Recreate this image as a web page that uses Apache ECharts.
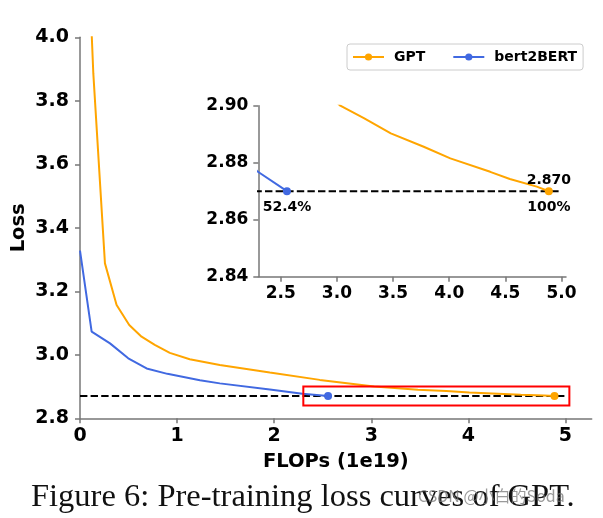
<!DOCTYPE html>
<html>
<head>
<meta charset="utf-8">
<script src="https://cdn.jsdelivr.net/npm/echarts@6/dist/echarts.min.js"></script>
<style>
html,body{margin:0;padding:0;background:#fff;}
#chart{width:603px;height:518px;}
</style>
</head>
<body>
<div id="chart"></div>
<script>
// ---- data ----
const gptX = [0.115, 0.137, 0.257, 0.377, 0.507, 0.634, 0.77, 0.925, 1.13, 1.44, 1.955, 2.47, 3.03, 3.24, 3.48, 3.773, 4.01, 4.365, 4.54, 4.78, 4.887];
const gptY = [4.05, 3.887, 3.288, 3.157, 3.094, 3.057, 3.031, 3.006, 2.986, 2.968, 2.944, 2.921, 2.900, 2.8956, 2.8903, 2.8856, 2.8815, 2.8768, 2.8743, 2.8716, 2.870];
const bertX = [0, 0.12, 0.309, 0.497, 0.686, 0.9, 1.235, 1.44, 1.955, 2.29, 2.555];
const bertY = [3.328, 3.073, 3.036, 2.989, 2.957, 2.940, 2.920, 2.910, 2.891, 2.877, 2.870];
const refLoss = 2.870;
const refX = [0, 5.0];
const zoomBoxX = [2.3, 5.04];
const zoomBoxY = [2.84, 2.90];
const mainXTicks = [0, 1, 2, 3, 4, 5];
const insetXTicks = [2.5, 3.0, 3.5, 4.0, 4.5, 5.0];
const seriesNames = ['GPT', 'bert2BERT'];
const bertLabel = '52.4%';
const gptLabelTop = '2.870';
const gptLabelBottom = '100%';
const xTitle = 'FLOPs (1e19)';
const yTitle = 'Loss';
const caption = 'Figure 6: Pre-training loss curves of GPT.';
const watermark = 'CSDN @小白的Soda';

const ORANGE = '#FFA500';
const BLUE = '#4169E1';
const AXIS = '#777777';
const FONT = 'DejaVu Sans';

const zip = (xs, ys) => xs.map((x, i) => [x, ys[i]]);
const gptData = zip(gptX, gptY);
const bertData = zip(bertX, bertY);
const refData = refX.map(x => [x, refLoss]);

function lastDot(n) {
  return function (v, p) { return p.dataIndex === n - 1 ? 8 : 0; };
}

function axisCommon(fontSize, margin) {
  return {
    axisLine: { show: true, lineStyle: { color: AXIS, width: 1.5 } },
    axisTick: { show: true, length: 5, lineStyle: { color: AXIS, width: 1.5 } },
    splitLine: { show: false },
    axisLabel: { color: '#000', fontFamily: FONT, fontWeight: 'bold', fontSize: fontSize, margin: margin }
  };
}

function lineSeries(name, data, color, xi, yi, extra) {
  return Object.assign({
    name: name, type: 'line', data: data, xAxisIndex: xi, yAxisIndex: yi,
    symbol: 'circle', symbolSize: lastDot(data.length), showSymbol: true,
    lineStyle: { color: color, width: 2 }, itemStyle: { color: color },
    clip: true, z: 3, silent: true
  }, extra || {});
}

function refSeries(xi, yi, extra) {
  return Object.assign({
    name: 'ref', type: 'line', data: refData, xAxisIndex: xi, yAxisIndex: yi,
    symbol: 'none', lineStyle: { color: '#000', width: 2, type: [7.4, 3.2] },
    clip: true, z: 2, silent: true
  }, extra || {});
}

const mainX = Object.assign(axisCommon(19, 8), {
  type: 'value', gridIndex: 0, min: 0, max: 5.27,
  name: xTitle, nameLocation: 'middle', nameGap: 34, nameMoveOverlap: false,
  nameTextStyle: { color: '#000', fontFamily: FONT, fontWeight: 'bold', fontSize: 19.5 }
});
mainX.axisLabel.customValues = mainXTicks;
mainX.axisTick.customValues = mainXTicks;

const mainY = Object.assign(axisCommon(19, 11), {
  type: 'value', gridIndex: 0, min: 2.8, max: 4.0, interval: 0.2,
  name: yTitle, nameLocation: 'middle', nameGap: 51, nameMoveOverlap: false,
  nameTextStyle: { color: '#000', fontFamily: FONT, fontWeight: 'bold', fontSize: 19.5 }
});
mainY.axisLabel.formatter = v => v.toFixed(1);

const insX = Object.assign(axisCommon(17, 8), {
  type: 'value', gridIndex: 1, min: zoomBoxX[0], max: zoomBoxX[1]
});
insX.axisLabel.customValues = insetXTicks;
insX.axisTick.customValues = insetXTicks;
insX.axisLabel.formatter = v => v.toFixed(1);

const insY = Object.assign(axisCommon(17, 10), {
  type: 'value', gridIndex: 1, min: zoomBoxY[0], max: zoomBoxY[1], interval: 0.02
});
insY.axisLabel.formatter = v => v.toFixed(2);

const labelStyle = { color: '#000', fontFamily: FONT, fontWeight: 'bold', fontSize: 14, lineHeight: 14 };

const option = {
  animation: false,
  backgroundColor: '#fff',
  grid: [
    { left: 80, top: 37.3, width: 511.7, height: 381, containLabel: false, outerBoundsMode: 'none' },
    { left: 258.3, top: 105.7, width: 307.7, height: 171, containLabel: false, outerBoundsMode: 'none' }
  ],
  xAxis: [mainX, insX],
  yAxis: [mainY, insY],
  legend: {
    data: seriesNames, left: 347, top: 44, orient: 'horizontal',
    itemWidth: 31, itemHeight: 9, itemGap: 27,
    padding: [6, 6, 6, 5],
    backgroundColor: '#fff', borderColor: '#cccccc', borderWidth: 1, borderRadius: 3,
    textStyle: { color: '#000', fontFamily: FONT, fontWeight: 'bold', fontSize: 14, padding: [0, 0, 0, 5] },
    selectedMode: false
  },
  series: [
    refSeries(0, 0, {
      markArea: {
        silent: true, z: 10,
        itemStyle: { color: 'rgba(0,0,0,0)', borderColor: '#ff0000', borderWidth: 2 },
        data: [[{ coord: [zoomBoxX[0], zoomBoxY[0]] }, { coord: [zoomBoxX[1], zoomBoxY[1]] }]]
      }
    }),
    lineSeries(seriesNames[0], gptData, ORANGE, 0, 0),
    lineSeries(seriesNames[1], bertData, BLUE, 0, 0),
    refSeries(1, 1),
    lineSeries(seriesNames[0], gptData, ORANGE, 1, 1, {
      markPoint: {
        symbol: 'circle', symbolSize: 1, silent: true,
        itemStyle: { color: 'rgba(0,0,0,0)' },
        data: [
          { coord: [gptX[gptX.length - 1], gptY[gptY.length - 1]],
            label: Object.assign({ show: true, position: 'top', distance: 3, formatter: gptLabelTop }, labelStyle) },
          { coord: [gptX[gptX.length - 1], gptY[gptY.length - 1]],
            label: Object.assign({ show: true, position: 'bottom', distance: 9, formatter: gptLabelBottom }, labelStyle) }
        ]
      }
    }),
    lineSeries(seriesNames[1], bertData, BLUE, 1, 1, {
      markPoint: {
        symbol: 'circle', symbolSize: 1, silent: true,
        itemStyle: { color: 'rgba(0,0,0,0)' },
        data: [
          { coord: [bertX[bertX.length - 1], bertY[bertY.length - 1]],
            label: Object.assign({ show: true, position: 'bottom', distance: 9, formatter: bertLabel }, labelStyle) }
        ]
      }
    })
  ],
  graphic: [
    { type: 'text', left: 31, top: 481,
      style: { text: caption, fill: '#111', font: '32.5px "Liberation Serif", "Times New Roman", serif' } },
    { type: 'text', left: 418, top: 488, z: 100,
      style: { text: watermark, fill: 'rgba(120,120,120,0.75)', font: '16px "Noto Sans CJK SC", "Noto Sans", sans-serif' } }
  ]
};

const chart = echarts.init(document.getElementById('chart'), null, { renderer: 'canvas' });
chart.setOption(option);
</script>
</body>
</html>
